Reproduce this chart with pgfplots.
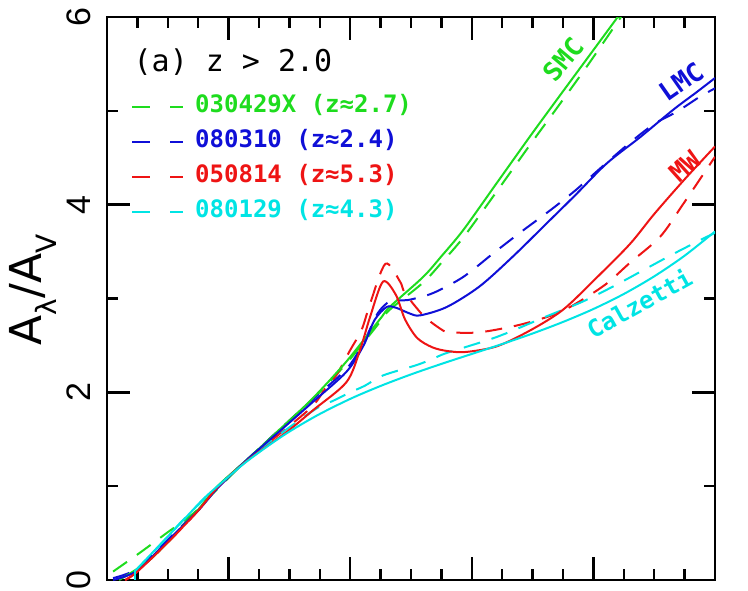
\documentclass[border=0pt]{standalone}
\usepackage{fontspec}
\usepackage{pgfplots}
\pgfplotsset{compat=1.18}
\setmainfont{DejaVu Sans}
\newfontfamily\monof{DejaVu Sans Mono}
\newfontfamily\tickf{Liberation Sans}
\definecolor{cgreen}{RGB}{30,220,30}
\definecolor{cblue}{RGB}{15,15,215}
\definecolor{cred}{RGB}{238,20,20}
\definecolor{ccyan}{RGB}{0,228,228}
\begin{document}
\begin{tikzpicture}
\useasboundingbox (0pt,0pt) rectangle (748pt,590pt);
\begin{axis}[
 at={(107pt,10pt)}, anchor=south west,
 scale only axis, width=608pt, height=563pt,
 xmin=0, xmax=10, ymin=0, ymax=6,
 xtick={0,2,...,10}, minor x tick num=3, xticklabels={},
 ytick={0,2,4,6}, minor y tick num=1,
 tick align=inside, major tick length=23pt, minor tick length=11pt,
 axis line style={line width=2.5pt},
 every tick/.style={black, line width=2.5pt},
 /pgf/number format/assume math mode=true,
 yticklabel style={rotate=90, anchor=south, font=\fontsize{34}{40}\selectfont\tickf, yshift=13pt},
 ylabel={A\raisebox{-0.35em}{\fontsize{28}{32}\selectfont λ}/A\raisebox{-0.35em}{\fontsize{28}{32}\selectfont V}},
 ylabel style={at={(axis description cs:-0.122,0.515)}, anchor=center, font=\fontsize{44}{50}\selectfont},
 legend cell align=left,
 legend style={at={(axis description cs:0.0395,0.8712)}, anchor=north west, draw=none, fill=none, inner sep=0pt, row sep=0pt, column sep=11pt, font=\fontsize{24}{28}\selectfont\monof\bfseries, nodes={inner xsep=0pt, inner ysep=6pt, text height=17pt, text depth=6pt}},
 legend image code/.code={\draw[#1, dash pattern=on 18pt off 20pt] (0pt,0pt) -- (51pt,0pt);},
 every axis plot/.append style={line width=2pt},
]
% dashed: GRB extinction curves (legend entries)
\addplot[cgreen, dash pattern=on 17pt off 12pt, smooth, tension=0.5] coordinates {
(0.1,0.09) (0.54,0.29) (0.98,0.50) (1.42,0.71) (1.8,0.96) (2.3,1.28) (2.9,1.64) (3.39,1.93) (3.94,2.31) (4.49,2.75) (4.65,2.88) (5.2,3.17) (5.5,3.38) (5.86,3.65) (6.41,4.14) (6.96,4.64) (7.4,5.03) (7.9,5.48) (8.4,5.95) (8.6,6.14) };
\addlegendentry{\textcolor{cgreen}{030429X (z≈2.7)}}
\addplot[cblue, dash pattern=on 17pt off 12pt, smooth, tension=0.5] coordinates {
(0.1,0.02) (0.5,0.12) (1.0,0.43) (1.5,0.75) (1.82,0.99) (2.3,1.28) (2.9,1.64) (3.39,1.93) (3.94,2.25) (4.22,2.53) (4.45,2.84) (4.65,2.97) (4.85,2.98) (5.0,2.99) (5.37,3.06) (5.86,3.23) (6.35,3.48) (6.79,3.70) (7.29,3.94) (7.7,4.15) (8.1,4.38) (8.6,4.66) (9.0,4.86) (9.37,4.99) (9.75,5.15) (10.0,5.24) };
\addlegendentry{\textcolor{cblue}{080310 (z≈2.4)}}
\addplot[cred, dash pattern=on 17pt off 12pt, smooth, tension=0.5] coordinates {
(0.3,0.0) (0.5,0.09) (1.0,0.40) (1.5,0.74) (1.82,0.99) (2.3,1.28) (2.96,1.62) (3.39,1.86) (3.61,2.06) (3.78,2.19) (4.0,2.45) (4.19,2.67) (4.33,2.95) (4.58,3.37) (4.82,3.18) (4.9,3.06) (5.2,2.82) (5.5,2.67) (5.64,2.64) (6.13,2.64) (6.79,2.72) (7.4,2.84) (7.8,2.98) (8.22,3.16) (8.6,3.38) (9.1,3.66) (9.48,4.01) (10.0,4.51) };
\addlegendentry{\textcolor{cred}{050814 (z≈5.3)}}
\addplot[ccyan, dash pattern=on 17pt off 12pt, smooth, tension=0.5] coordinates {
(0.455,0.09) (0.5,0.12) (1.0,0.46) (1.25,0.64) (1.82,1.0) (2.3,1.28) (2.9,1.58) (3.45,1.83) (3.72,1.91) (4.0,2.0) (4.24,2.07) (4.54,2.18) (5.09,2.29) (5.37,2.36) (5.59,2.42) (6.41,2.59) (7.23,2.81) (7.8,2.96) (8.33,3.13) (8.9,3.33) (9.3,3.47) (9.75,3.62) (10.0,3.70) };
\addlegendentry{\textcolor{ccyan}{080129 (z≈4.3)}}
% solid: template curves
\addplot[cgreen, smooth, tension=0.5, forget plot] coordinates {
(0.2,0.00) (0.5,0.12) (0.71,0.22) (1.0,0.40) (1.25,0.58) (1.5,0.75) (1.82,1.00) (2.3,1.28) (2.9,1.64) (3.39,1.94) (3.94,2.33) (4.49,2.78) (4.65,2.91) (5.2,3.23) (5.5,3.45) (5.86,3.73) (6.41,4.23) (6.96,4.73) (7.4,5.12) (7.9,5.56) (8.4,6.0) (8.6,6.18) };
\addplot[cblue, smooth, tension=0.5, forget plot] coordinates {
(0.1,0.0) (0.5,0.10) (1.0,0.42) (1.5,0.74) (1.82,0.98) (2.3,1.28) (2.9,1.62) (3.39,1.90) (3.94,2.22) (4.22,2.50) (4.4,2.77) (4.6,2.91) (4.76,2.90) (4.98,2.84) (5.15,2.82) (5.59,2.91) (6.13,3.13) (6.68,3.45) (7.23,3.80) (7.7,4.10) (8.22,4.44) (8.77,4.72) (9.31,5.01) (9.7,5.20) (10.0,5.35) };
\addplot[cred, smooth, tension=0.5, forget plot] coordinates {
(0.3,0.0) (0.5,0.09) (1.0,0.40) (1.5,0.74) (1.82,0.99) (2.3,1.27) (2.96,1.58) (3.39,1.81) (3.94,2.11) (4.16,2.45) (4.33,2.81) (4.54,3.18) (4.75,3.04) (4.9,2.78) (5.1,2.58) (5.35,2.48) (5.6,2.44) (5.9,2.43) (6.41,2.49) (6.96,2.66) (7.5,2.88) (8.05,3.22) (8.6,3.58) (9.0,3.90) (9.5,4.27) (10.0,4.62) };
\addplot[ccyan, forget plot] coordinates {(0.455,0.0) (0.455,0.091)};
\addplot[ccyan, smooth, tension=0.5, forget plot] coordinates {
(0.455,0.091) (0.5,0.122) (0.75,0.293) (1.0,0.464) (1.25,0.634) (1.587,0.865) (1.82,1.0) (2.3,1.264) (2.9,1.540) (3.45,1.752) (4.0,1.930) (4.5,2.068) (5.0,2.191) (5.5,2.303) (6.0,2.409) (6.5,2.515) (7.0,2.627) (7.5,2.750) (8.0,2.888) (8.5,3.048) (9.0,3.236) (9.5,3.456) (10.0,3.714) };
% annotations
\node[anchor=west, font=\fontsize{30}{36}\selectfont\monof] at (axis description cs:0.038,0.92) {(a) z > 2.0};
\node[rotate=50, text=cgreen, font=\fontsize{26}{30}\selectfont\monof\bfseries] at (axis cs:7.5,5.55) {SMC};
\node[rotate=35, text=cblue, font=\fontsize{26}{30}\selectfont\monof\bfseries] at (axis cs:9.45,5.31) {LMC};
\node[rotate=42, text=cred, font=\fontsize{26}{30}\selectfont\monof\bfseries] at (axis cs:9.50,4.41) {MW};
\node[rotate=29, text=ccyan, font=\fontsize{24}{28}\selectfont\monof\bfseries] at (axis cs:8.75,2.95) {Calzetti};
\end{axis}
\end{tikzpicture}
\end{document}
